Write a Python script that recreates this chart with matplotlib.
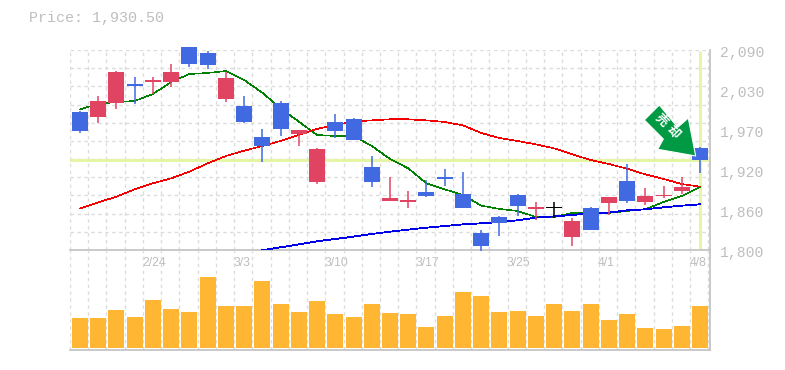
import numpy as np
import matplotlib
matplotlib.use('Agg')
import matplotlib.pyplot as plt
from matplotlib.patches import Polygon

# candle values, oldest first
opens = [2000.1, 1992.9, 2013.2, 2040.7, 2043.6, 2043.6, 2094.4, 2085.7, 2019.0, 2008.8, 1963.9, 2013.2,
         1968.2, 1898.6, 1985.6, 1990.0, 1920.4, 1871.0, 1869.6, 1884.1, 1905.9, 1881.2, 1824.7, 1847.9,
         1879.8, 1859.5, 1860.9, 1818.9, 1860.9, 1868.2, 1900.1, 1869.6, 1878.3, 1885.6, 1947.9]
closes = [1972.6, 2016.1, 2058.1, 2037.8, 2046.5, 2058.1, 2069.7, 2068.3, 2049.4, 1985.6, 1950.8, 1975.5,
          1974.0, 1946.5, 1972.6, 1959.5, 1898.6, 1875.4, 1872.5, 1878.3, 1903.0, 1860.9, 1805.8, 1839.2,
          1863.8, 1862.4, 1860.9, 1842.0, 1829.0, 1876.9, 1871.0, 1878.3, 1879.8, 1891.4, 1930.5]
highs = [2001.6, 2023.3, 2059.5, 2050.9, 2050.9, 2069.7, 2094.4, 2088.5, 2058.1, 2023.3, 1975.5, 2016.1,
         1974.0, 1947.9, 1997.2, 1991.4, 1936.3, 1905.9, 1885.6, 1901.5, 1917.5, 1913.1, 1829.0, 1849.3,
         1881.2, 1869.6, 1869.6, 1846.4, 1862.4, 1876.9, 1924.7, 1889.9, 1892.8, 1905.9, 1949.4]
lows = [1969.7, 1984.2, 2004.5, 2011.7, 2026.2, 2036.4, 2065.4, 2062.5, 2014.6, 1984.2, 1927.6, 1965.3,
        1950.8, 1895.7, 1962.4, 1959.5, 1891.4, 1871.0, 1860.9, 1876.9, 1892.8, 1860.9, 1799.0, 1820.3,
        1849.3, 1843.5, 1846.4, 1805.8, 1829.0, 1850.8, 1868.2, 1865.3, 1875.4, 1881.2, 1911.7]
volumes = [30, 30, 38, 31, 48, 39, 36, 71, 42, 42, 67, 44, 36, 47, 34, 31, 44, 35,
           34, 21, 32, 56, 52, 36, 37, 32, 44, 37, 44, 28, 34, 20, 19, 22, 42]

ma_short = [2004.0, 2011.7, 2014.6, 2016.1, 2026.2, 2043.6, 2055.2, 2056.7, 2059.5, 2046.5, 2028.1, 2005.4,
            1986.1, 1966.8, 1965.3, 1965.3, 1950.8, 1932.0, 1918.4, 1896.7, 1888.0, 1879.8, 1864.3, 1859.5,
            1856.6, 1847.9, 1847.9, 1853.7, 1853.7, 1853.7, 1856.6, 1859.0, 1869.6, 1878.3, 1891.4]
ma_mid = [1860.4, 1869.1, 1877.3, 1888.0, 1896.7, 1903.9, 1913.6, 1925.7, 1936.3, 1944.0, 1950.8, 1958.1,
          1966.8, 1975.5, 1981.3, 1986.1, 1988.0, 1989.5, 1989.5, 1988.0, 1985.6, 1980.8, 1969.7, 1962.4,
          1958.1, 1953.2, 1947.4, 1938.7, 1930.5, 1924.7, 1917.9, 1909.7, 1903.0, 1895.7, 1891.9]
ma_long = [1799.5, 1803.9, 1808.2, 1812.6, 1816.0, 1819.4, 1823.2, 1826.6, 1829.5, 1832.4, 1834.8, 1837.2,
           1838.7, 1840.6, 1843.0, 1846.9, 1848.8, 1850.8, 1853.2, 1854.2, 1857.5, 1859.0, 1861.9, 1864.3, 1866.2]
ma_long_start = 10

# labels sit on six evenly spaced levels, the printed values are rounded
price_tick_labels = ['1,800', '1,860', '1,920', '1,970', '2,030', '2,090']
date_idx = [4, 9, 14, 19, 24, 29, 34]
date_labels = ['2/24', '3/3', '3/10', '3/17', '3/25', '4/1', '4/8']
last_price = 1930.5

W, H = 785, 370
UP = '#e14462'
DOWN = '#4169e1'
GRID = '#dcdcdc'
TEXT = '#bebebe'
CROSS = '#e4f6a6'
FRAME = '#c0c0c0'


def px_axes(x0, y0, x1, y1):
    # axes from pixel box, y counted from the top
    return fig.add_axes([x0 / W, 1 - y1 / H, (x1 - x0) / W, (y1 - y0) / H])


fig = plt.figure(figsize=(W / 100, H / 100), dpi=100)
ax = px_axes(70, 50, 710, 250)
vol = px_axes(70, 250, 710, 350)
vol.patch.set_visible(False)

xlim = (-0.548, 34.55)
n = len(opens)
xs = np.arange(n)
bar_w = 16 / 18.235
grid_x = xlim[0] + np.arange(36)

for a in (ax, vol):
    a.set_xlim(*xlim)
    a.set_xticks([])
    a.set_yticks([])
    for s in ('top', 'left'):
        a.spines[s].set_visible(False)
    for s in ('bottom', 'right'):
        a.spines[s].set_color(FRAME)
        a.spines[s].set_linewidth(1.2)
    for gx in grid_x:
        a.axvline(gx, color=GRID, lw=1, ls=(0, (2.5, 2.5)), zorder=1)

ax.set_ylim(1800, 2090)
vol.set_ylim(-2, 98)

for gy in np.linspace(1800, 2090, 12)[1:]:
    ax.axhline(gy, color=GRID, lw=1, ls=(0, (2.5, 2.5)), zorder=1)

# crosshair on the last candle
ax.axhline(last_price, color=CROSS, lw=2.2, zorder=2)
ax.plot([xs[-1], xs[-1]], [1802, 2088], color=CROSS, lw=2.2, zorder=2, solid_capstyle='butt')

# thin aliased lines, agg draws them wider than the nominal width
ax.plot(xs, ma_short, color='#008000', lw=0.4, zorder=3, antialiased=False)
ax.plot(xs, ma_mid, color='#f00000', lw=0.45, zorder=3, antialiased=False)
ax.plot(xs[ma_long_start:], ma_long, color='#0000e6', lw=0.6, zorder=3, antialiased=False)

for i in range(n):
    o, c = opens[i], closes[i]
    if abs(o - c) < 0.1:
        col = '#000000'
    elif c > o:
        col = UP
    else:
        col = DOWN
    ax.plot([i, i], [lows[i], highs[i]], color=col, lw=1.1, zorder=4, clip_on=False,
            solid_capstyle='butt')
    h = max(abs(c - o), 1.4)
    ax.bar(i, h, bottom=min(o, c), width=bar_w, color=col, zorder=5, clip_on=False, lw=0)

vol.bar(xs, volumes, width=bar_w, color='#ffb733', zorder=3, lw=0)

# price labels on the right, date labels under the price panel
for p, lab in zip(np.linspace(1800, 2090, 6), price_tick_labels):
    ax.annotate(lab, (1, p), xycoords=('axes fraction', 'data'), xytext=(7, -2.5), textcoords='offset points',
                family='Liberation Mono', fontsize=10.6, color=TEXT, va='center', ha='left',
                annotation_clip=False)
for i, lab in zip(date_idx, date_labels):
    ax.annotate(lab, (i + xlim[0], 0), xycoords=('data', 'axes fraction'), xytext=(-0.5, -9),
                textcoords='offset points', family='Liberation Sans', fontsize=8.8, color=TEXT,
                va='center', ha='left', annotation_clip=False)

fig.text(29 / W, 1 - 18 / H, 'Price: 1,930.50', family='Liberation Mono', fontsize=10.8,
         color=TEXT, va='center', ha='left')

# sell arrow, drawn in a full-figure pixel overlay
over = fig.add_axes([0, 0, 1, 1])
over.set_xlim(0, W)
over.set_ylim(H, 0)
over.axis('off')
arrow = [(659.3, 105), (644.3, 120), (663.3, 139), (657.7, 149.3), (695.7, 156), (688.3, 118), (677.7, 127.3)]
over.add_patch(Polygon(arrow, closed=True, facecolor='#009944', edgecolor='white', lw=0.8, joinstyle='miter'))
for ch, cx, cy in [('売', 661, 120.5), ('却', 673, 132)]:
    over.text(cx, cy, ch, rotation=-45, rotation_mode='anchor', color='white', fontsize=9, weight='bold',
              family=['Noto Sans CJK JP', 'DejaVu Sans'], ha='center', va='center')

fig.savefig('out.png', dpi=100)
